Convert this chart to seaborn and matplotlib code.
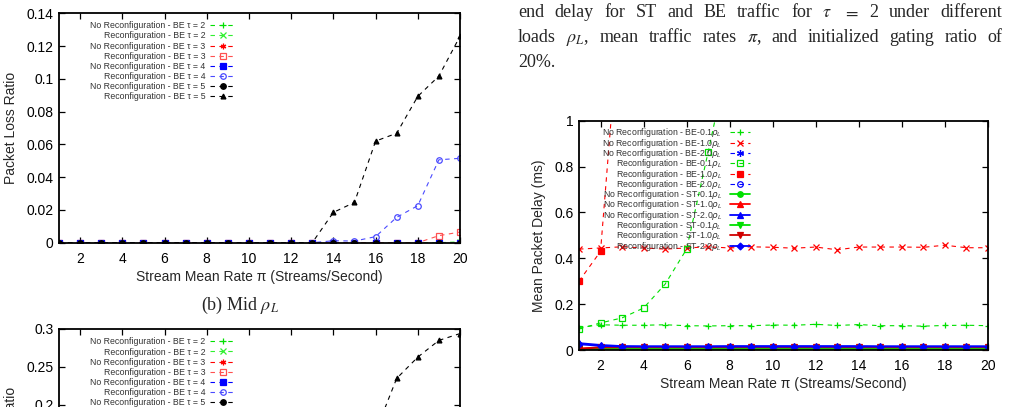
import numpy as np
import pandas as pd
import matplotlib
matplotlib.use("Agg")
import matplotlib.pyplot as plt
import seaborn as sns
from matplotlib.ticker import FuncFormatter, MultipleLocator

sns.set_style("ticks")
plt.rcParams['font.family'] = ['Liberation Sans', 'DejaVu Sans']
plt.rcParams['mathtext.fontset'] = 'dejavusans'

# ---------------- data ----------------
x_rate = list(range(1, 21))

# (b) Mid rho_L : packet loss ratio
mid_nr_t2 = [0.0] * 20
mid_r_t2 = [0.0] * 19 + [0.0005]
mid_nr_t3 = [0.0] * 20
mid_r_t3 = [0.0] * 18 + [0.0043, 0.0065]
mid_nr_t4 = [0.0] * 20
mid_r_t4 = [0.0] * 13 + [0.0012, 0.001, 0.0037, 0.0155, 0.0226, 0.0506, 0.0515]
mid_nr_t5 = [0.0] * 20
mid_r_t5 = [0.0] * 13 + [0.0185, 0.0246, 0.062, 0.0668, 0.0893, 0.1017, 0.126]

# (c) High rho_L : packet loss ratio (only top part visible)
high_nr_t2 = [0.0] * 20
high_r_t2 = [0.0] * 20
high_nr_t3 = [0.0] * 20
high_r_t3 = [0.0] * 20
high_nr_t4 = [0.0] * 20
high_r_t4 = [0.0] * 20
high_nr_t5 = [0.0] * 20
high_r_t5 = [0.0, 0.0, 0.0, 0.0, 0.0, 0.0, 0.005, 0.01, 0.02, 0.03,
             0.045, 0.06, 0.08, 0.1, 0.13, 0.165, 0.235, 0.263, 0.285, 0.294]

# Mean packet delay (ms), tau = 2
be01_nr = [0.098, 0.11, 0.108, 0.108, 0.11, 0.106, 0.105, 0.106, 0.106, 0.109,
           0.108, 0.112, 0.107, 0.111, 0.106, 0.106, 0.104, 0.107, 0.108, 0.106]
be10_nr = [0.44, 0.445, 0.45, 0.445, 0.44, 0.445, 0.45, 0.445, 0.45, 0.448,
           0.444, 0.449, 0.437, 0.449, 0.449, 0.449, 0.448, 0.457, 0.446, 0.446]
be20_nr = [1.6, 1.9, 2.2, 2.5, 2.8, 3.0, 3.2, 3.4, 3.5, 3.6,
           3.7, 3.8, 3.9, 4.0, 4.0, 4.1, 4.1, 4.2, 4.2, 4.3]
be01_r = [0.092, 0.118, 0.14, 0.183, 0.287, 0.44, 0.864, 1.3, 1.9, 2.2,
          2.4, 2.6, 2.8, 2.9, 3.0, 3.1, 3.2, 3.3, 3.4, 3.5]
be10_r = [0.3, 0.43, 1.6, 2.2, 2.6, 2.9, 3.1, 3.3, 3.4, 3.5,
          3.6, 3.7, 3.8, 3.9, 4.0, 4.0, 4.1, 4.1, 4.2, 4.2]
be20_r = [1.8, 2.2, 2.6, 2.9, 3.1, 3.3, 3.5, 3.6, 3.7, 3.8,
          3.9, 4.0, 4.1, 4.2, 4.2, 4.3, 4.3, 4.4, 4.4, 4.5]
st01_nr = [0.004] * 20
st10_nr = [0.006, 0.012, 0.013, 0.013, 0.013, 0.013, 0.013, 0.013, 0.013, 0.013,
           0.013, 0.013, 0.013, 0.013, 0.013, 0.013, 0.013, 0.013, 0.013, 0.013]
st20_nr = [0.03, 0.022, 0.017, 0.016, 0.016, 0.016, 0.016, 0.017, 0.017, 0.017,
           0.017, 0.017, 0.017, 0.017, 0.016, 0.016, 0.016, 0.016, 0.016, 0.016]
st01_r = [0.004] * 20
st10_r = [0.005, 0.011, 0.012, 0.012, 0.012, 0.012, 0.012, 0.012, 0.012, 0.012,
          0.012, 0.012, 0.012, 0.012, 0.012, 0.012, 0.012, 0.012, 0.012, 0.012]
st20_r = [0.025, 0.018, 0.015, 0.015, 0.015, 0.015, 0.015, 0.015, 0.015, 0.015,
          0.015, 0.015, 0.015, 0.015, 0.015, 0.015, 0.015, 0.015, 0.015, 0.015]

x_ticks = [2, 4, 6, 8, 10, 12, 14, 16, 18, 20]
x_label = "Stream Mean Rate π (Streams/Second)"

GREEN, LGREEN = "#00e000", "#30f030"
RED, LRED = "#ff0000", "#ff5050"
BLUE, LBLUE = "#0000ff", "#4a4aff"
BLACK = "#000000"
ASTER = (6, 2, 0)

W, H = 1025, 407
fig = plt.figure(figsize=(W / 100, H / 100), dpi=100)


def ax_px(l, t, r, b):
    return fig.add_axes([l / W, 1 - b / H, (r - l) / W, (b - t) / H])


def fmt(v, pos):
    return "%g" % round(v, 6)


def style_axis(ax, ylim, ystep):
    ax.set_xlim(1, 20)
    ax.set_ylim(*ylim)
    ax.set_xticks(x_ticks)
    ax.yaxis.set_major_locator(MultipleLocator(ystep))
    ax.yaxis.set_major_formatter(FuncFormatter(fmt))
    ax.tick_params(direction="in", top=True, right=True, length=4.5, width=0.9,
                   labelsize=10, colors="black")
    ax.tick_params(axis="x", pad=6.5)
    ax.tick_params(axis="y", pad=4)
    for s in ax.spines.values():
        s.set_visible(True)
        s.set_linewidth(1.3)
        s.set_color("black")


def draw(ax, y, color, marker, ls, label, mfc=None, ms=4, lw=0.8):
    df = pd.DataFrame({"x": x_rate, "y": y})
    kw = dict(color=color, marker=marker, markersize=ms, linewidth=lw,
              markeredgewidth=0.9, markeredgecolor=color, label=label, ax=ax)
    kw["markerfacecolor"] = color if mfc is None else mfc
    sns.lineplot(data=df, x="x", y="y", **kw)
    line = ax.lines[-1]
    line.set_markeredgecolor(color)
    line.set_markerfacecolor(color if mfc is None else mfc)
    if ls == "--":
        line.set_dashes((4, 4))
    else:
        line.set_linestyle("-")


def loss_series(ax, arrs):
    specs = [
        ("No Reconfiguration - BE τ = 2", GREEN, "+", None, 5),
        ("Reconfiguration - BE τ = 2", LGREEN, "x", None, 4),
        ("No Reconfiguration - BE τ = 3", RED, ASTER, None, 4),
        ("Reconfiguration - BE τ = 3", LRED, "s", "none", 4),
        ("No Reconfiguration - BE τ = 4", BLUE, "s", None, 4),
        ("Reconfiguration - BE τ = 4", LBLUE, "o", "none", 4),
        ("No Reconfiguration - BE τ = 5", BLACK, "o", None, 4),
        ("Reconfiguration - BE τ = 5", BLACK, "^", None, 3.5),
    ]
    for (lab, c, m, mfc, ms), y in zip(specs, arrs):
        draw(ax, y, c, m, "--", lab, mfc=mfc, ms=ms)


def add_legend(ax, fs, anchor, spacing, hl, hp):
    leg = ax.legend(loc="upper right", bbox_to_anchor=anchor, frameon=False,
                    markerfirst=False, fontsize=fs, handlelength=hl,
                    handletextpad=hp, labelspacing=spacing, borderpad=0,
                    borderaxespad=0)
    for t in leg.get_texts():
        t.set_color("#333333")
    return leg


# ---------- top-left: (b) Mid rho_L ----------
ax1 = ax_px(59, 13.3, 460, 242.7)
loss_series(ax1, [mid_nr_t2, mid_r_t2, mid_nr_t3, mid_r_t3,
                  mid_nr_t4, mid_r_t4, mid_nr_t5, mid_r_t5])
style_axis(ax1, (0, 0.14), 0.02)
ax1.set_xlabel(x_label, fontsize=10, labelpad=3)
ax1.set_ylabel("Packet Loss Ratio", fontsize=10, labelpad=6)
add_legend(ax1, 6.35, (0.439, 0.965), 0.13, 2.8, 0.55)

fig.text(240 / W, 1 - 305 / H, r"(b) Mid $\rho_L$", ha="center", va="center",
         fontsize=13, family="Liberation Serif", math_fontfamily="stix")

# ---------- bottom-left: (c) High rho_L (partly visible) ----------
ax2 = ax_px(59, 329, 460, 329 + 228)
loss_series(ax2, [high_nr_t2, high_r_t2, high_nr_t3, high_r_t3,
                  high_nr_t4, high_r_t4, high_nr_t5, high_r_t5])
style_axis(ax2, (0, 0.3), 0.05)
ax2.set_ylabel("Packet Loss Ratio", fontsize=10, labelpad=6)
add_legend(ax2, 6.35, (0.439, 0.963), 0.13, 2.8, 0.55)

# ---------- right: mean packet delay ----------
ax3 = ax_px(579, 120.7, 988, 350)
rspecs = [
    (be01_nr, "No Reconfiguration - BE-0.1$\\rho_L$", GREEN, "+", "--", None, 5),
    (be10_nr, "No Reconfiguration - BE-1.0$\\rho_L$", RED, "x", "--", None, 4),
    (be20_nr, "No Reconfiguration - BE-2.0$\\rho_L$", BLUE, ASTER, "--", None, 5),
    (be01_r, "Reconfiguration - BE-0.1$\\rho_L$", GREEN, "s", "--", "none", 4),
    (be10_r, "Reconfiguration - BE-1.0$\\rho_L$", RED, "s", "--", None, 4),
    (be20_r, "Reconfiguration - BE-2.0$\\rho_L$", BLUE, "o", "--", "none", 4),
    (st01_nr, "No Reconfiguration - ST-0.1$\\rho_L$", GREEN, "o", "-", None, 4),
    (st10_nr, "No Reconfiguration - ST-1.0$\\rho_L$", RED, "^", "-", None, 4),
    (st20_nr, "No Reconfiguration - ST-2.0$\\rho_L$", BLUE, "^", "-", None, 4),
    (st01_r, "Reconfiguration - ST-0.1$\\rho_L$", GREEN, "v", "-", None, 4),
    (st10_r, "Reconfiguration - ST-1.0$\\rho_L$", "#d00000", "v", "-", None, 4),
    (st20_r, "Reconfiguration - ST-2.0$\\rho_L$", BLUE, "D", "-", None, 3.5),
]
for y, lab, c, m, ls, mfc, ms in rspecs:
    draw(ax3, y, c, m, ls, lab, mfc=mfc, ms=ms, lw=0.8 if ls == "--" else 1.3)
style_axis(ax3, (0, 1), 0.2)
ax3.set_xlabel(x_label, fontsize=10, labelpad=3)
ax3.set_ylabel("Mean Packet Delay (ms)", fontsize=10, labelpad=6)
add_legend(ax3, 6.3, (0.418, 0.975), -0.31, 2.3, 0.85)

# ---------- top-right caption text (justified) ----------
serif = dict(fontsize=13, family="Liberation Serif", math_fontfamily="stix",
             va="baseline", ha="left")
renderer = fig.canvas.get_renderer()


def justified(words, x0, x1, ybase):
    ts = [fig.text(0, 1 - ybase / H, w, **serif) for w in words]
    ws = [t.get_window_extent(renderer).width for t in ts]
    gap = (x1 - x0 - sum(ws)) / (len(ws) - 1)
    xx = x0
    for t, w in zip(ts, ws):
        t.set_x(xx / W)
        xx += w + gap


line1 = ["end", "delay", "for", "ST", "and", "BE", "traffic", "for",
         r"$\tau$", r"$=$", "2", "under", "different"]
line2 = ["loads", r"$\rho_L$,", "mean", "traffic", "rates", r"$\pi$,", "and",
         "initialized", "gating", "ratio", "of"]
justified(line1, 518, 1002, 17)
justified(line2, 518, 1002, 42)
fig.text(518 / W, 1 - 67 / H, "20%.", **serif)

fig.savefig("out.png", dpi=100)
